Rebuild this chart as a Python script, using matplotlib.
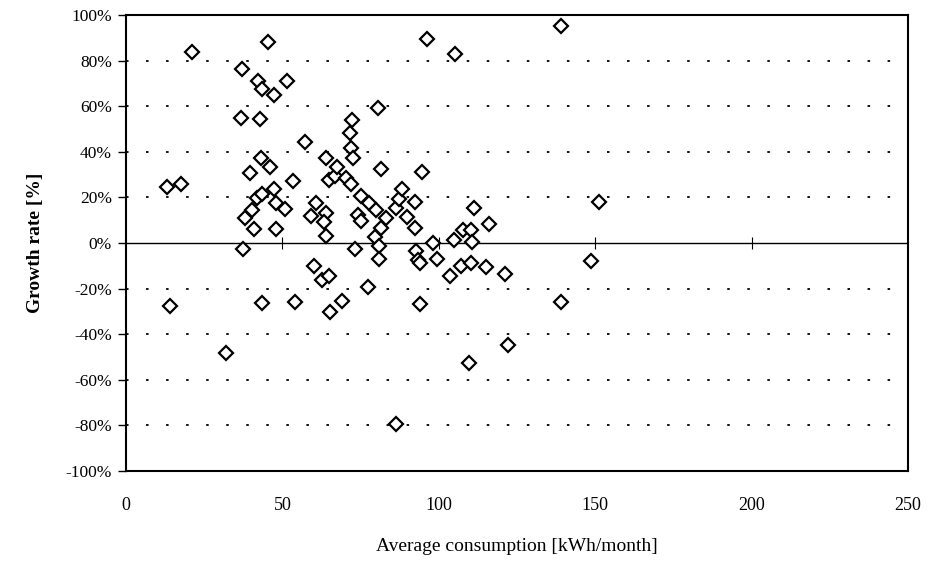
import matplotlib
matplotlib.use("Agg")
import matplotlib.pyplot as plt
from matplotlib.ticker import FuncFormatter

plt.rcParams['font.family'] = ['Liberation Serif', 'DejaVu Serif']

# average consumption [kWh/month] and growth rate [%]
consumption = [13.2, 17.7, 14.0, 21.0, 31.9, 36.7, 37.1, 37.3, 38.2, 39.8,
               40.4, 40.9, 42.0, 42.3, 42.8, 43.2, 43.6, 43.6, 43.4, 45.4,
               46.0, 47.3, 47.4, 47.8, 47.8, 50.7, 51.5, 53.5, 53.9, 57.2,
               59.0, 60.6, 60.0, 62.5, 63.8, 63.8, 63.3, 63.8, 64.9, 64.9,
               65.1, 66.8, 67.5, 69.1, 70.2, 71.6, 71.8, 72.3, 72.6, 72.0,
               73.3, 74.2, 75.0, 75.0, 77.4, 77.6, 79.6, 79.8, 80.5, 81.0,
               80.8, 81.4, 81.4, 83.2, 86.2, 87.4, 88.3, 86.4, 89.9, 92.3,
               92.3, 92.6, 93.3, 94.0, 94.1, 94.7, 96.3, 98.2, 99.5, 103.5,
               104.8, 105.1, 107.1, 107.7, 110.4, 110.6, 110.3, 109.8, 111.2, 115.1,
               116.0, 121.3, 122.1, 139.1, 139.2, 148.8, 151.1]
growth = [24.7, 25.9, -27.6, 83.6, -48.1, 55.0, 76.2, -2.5, 10.8, 30.6,
          14.5, 6.0, 19.6, 71.1, 54.2, 37.4, 67.4, 21.5, -26.5, 88.0,
          33.2, 64.9, 23.5, 17.4, 6.1, 14.8, 71.1, 27.1, -25.7, 44.4,
          11.7, 17.4, -10.1, -16.2, 37.4, 13.3, 9.1, 3.0, 27.6, -14.5,
          -30.4, 29.5, 33.5, -25.3, 28.4, 48.4, 41.8, 53.9, 37.4, 25.9,
          -2.8, 12.3, 9.8, 20.6, -19.2, 17.7, 2.8, 14.5, 59.1, -1.5,
          -7.2, 32.5, 6.4, 10.8, 15.5, 19.2, 23.7, -79.4, 11.5, 18.1,
          6.4, -3.3, -7.6, -8.9, -26.8, 31.0, 89.5, -0.1, -7.2, -14.3,
          1.2, 82.8, -9.9, 5.7, 5.7, 0.6, -8.6, -52.8, 15.2, -10.4,
          8.3, -13.7, -44.7, 95.2, -25.7, -7.8, 18.1]

x_ticks = [0, 50, 100, 150, 200, 250]
y_ticks = [-100, -80, -60, -40, -20, 0, 20, 40, 60, 80, 100]

fig = plt.figure(figsize=(9.27, 5.62), dpi=100)
ax = fig.add_axes([126 / 927, 91 / 562, 782 / 927, 456 / 562])

# dotted gridlines, solid zero line
for y in y_ticks[1:-1]:
    if y == 0:
        ax.axhline(0, color='black', lw=1.0, zorder=1)
    else:
        ax.axhline(y, color='black', lw=1.3, linestyle=(0, (1.4, 9.7)), zorder=1)

# little tick marks sitting on the zero line
ax.plot(x_ticks[1:-1], [0] * len(x_ticks[1:-1]), linestyle='none', marker='|',
        color='black', markersize=9, mew=0.8, zorder=1)

ax.plot(consumption, growth, linestyle='none', marker='D', markersize=6.8,
        markerfacecolor='white', markeredgecolor='black', mew=1.6, zorder=3)

ax.set_xlim(0, 250)
ax.set_ylim(-100, 100)
ax.set_xticks(x_ticks)
ax.set_yticks(y_ticks)
ax.yaxis.set_major_formatter(FuncFormatter(lambda v, p: '%d%%' % v))
ax.tick_params(axis='x', length=0, pad=19, labelsize=13)
ax.tick_params(axis='y', direction='out', length=6, width=1, pad=4, labelsize=12.5)

for s in ax.spines.values():
    s.set_linewidth(1.5)

ax.set_xlabel('Average consumption [kWh/month]', fontsize=14, labelpad=17)
ax.set_ylabel('Growth rate [%]', fontsize=14, fontweight='bold', labelpad=16)

plt.savefig('out.png', dpi=100)
